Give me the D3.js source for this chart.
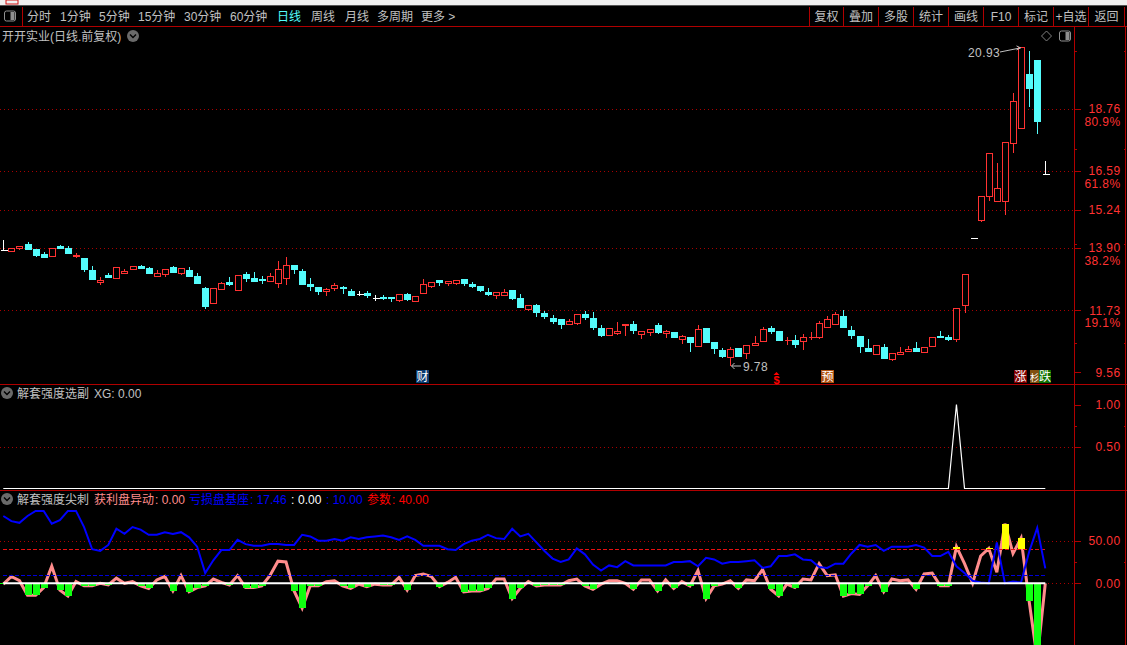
<!DOCTYPE html>
<html>
<head>
<meta charset="utf-8">
<script src="https://cdn.jsdelivr.net/npm/d3@7"></script>
<style>
  html, body { margin: 0; padding: 0; background: #000; overflow: hidden; }
  text { font-family: "Liberation Sans", "Noto Sans CJK SC", sans-serif; }
</style>
</head>
<body>
<div id="data-vis"></div>
<script>
// daily bars, oldest first
const open = [
  13.85, 13.81, 13.90, 14.04, 13.87, 13.69, 13.63, 13.98, 13.90, 13.63,
  13.55, 13.13, 12.72, 12.95, 12.86, 13.03, 13.18, 13.27, 13.20, 12.93,
  12.98, 13.24, 13.04, 13.13, 12.92, 12.50, 11.98, 12.48, 12.71, 12.44,
  12.99, 12.85, 12.81, 12.76, 12.69, 12.86, 13.31, 13.10, 12.64, 12.54,
  12.41, 12.50, 12.55, 12.40, 12.31, 12.33, 12.15, 12.19, 12.19, 12.09,
  12.29, 12.06, 12.34, 12.58, 12.78, 12.69, 12.69, 12.82, 12.65, 12.57,
  12.36, 12.27, 12.27, 12.43, 12.15, 11.78, 11.91, 11.63, 11.45, 11.42,
  11.25, 11.28, 11.59, 11.45, 11.10, 10.87, 10.94, 11.22, 11.24, 10.90,
  10.97, 11.21, 10.94, 10.96, 10.73, 10.81, 10.49, 11.10, 10.62, 10.34,
  10.10, 10.41, 10.24, 10.52, 10.66, 11.10, 11.00, 10.68, 10.69, 10.66,
  10.78, 10.80, 11.13, 11.26, 11.52, 11.04, 10.83, 10.41, 10.21, 10.44,
  10.03, 10.21, 10.31, 10.41, 10.28, 10.49, 10.83, 10.79, 10.71, 11.90,
  14.27, 14.89, 15.71, 15.56, 15.56, 17.58, 18.11, 19.98, 20.47, 16.48
];
const high = [
  14.18, 13.92, 13.97, 14.13, 13.87, 13.76, 13.89, 14.02, 13.97, 13.73,
  13.55, 13.27, 12.89, 13.03, 13.23, 13.17, 13.26, 13.31, 13.24, 13.13,
  13.16, 13.27, 13.20, 13.24, 13.03, 12.54, 12.50, 12.71, 12.89, 12.96,
  13.06, 13.06, 12.92, 13.03, 13.45, 13.59, 13.31, 13.17, 12.85, 12.54,
  12.50, 12.68, 12.57, 12.47, 12.40, 12.40, 12.26, 12.26, 12.19, 12.29,
  12.33, 12.24, 12.82, 12.70, 12.78, 12.75, 12.80, 12.82, 12.71, 12.57,
  12.50, 12.35, 12.47, 12.43, 12.29, 11.90, 11.94, 11.70, 11.56, 11.42,
  11.42, 11.59, 11.70, 11.66, 11.21, 11.10, 11.31, 11.24, 11.35, 11.00,
  11.09, 11.28, 11.03, 10.96, 10.86, 10.81, 11.21, 11.10, 10.62, 10.41,
  10.44, 10.41, 10.53, 10.83, 11.14, 11.18, 11.00, 10.79, 10.86, 10.90,
  10.97, 11.35, 11.52, 11.66, 11.73, 11.18, 10.83, 10.72, 10.50, 10.55,
  10.25, 10.44, 10.48, 10.62, 10.46, 10.78, 11.00, 10.86, 11.79, 12.98,
  14.27, 15.71, 17.24, 16.86, 17.59, 19.32, 20.93, 20.79, 20.47, 16.93
];
const low = [
  13.83, 13.81, 13.83, 13.83, 13.60, 13.55, 13.63, 13.87, 13.69, 13.55,
  13.06, 12.78, 12.61, 12.85, 12.82, 12.99, 13.13, 13.17, 12.99, 12.93,
  12.89, 13.03, 12.96, 12.89, 12.64, 11.77, 11.98, 12.48, 12.57, 12.44,
  12.71, 12.71, 12.64, 12.75, 12.50, 12.61, 12.99, 12.64, 12.40, 12.26,
  12.22, 12.40, 12.29, 12.22, 12.22, 12.15, 12.05, 12.08, 12.01, 12.02,
  12.05, 12.01, 12.34, 12.51, 12.57, 12.57, 12.61, 12.57, 12.50, 12.36,
  12.22, 12.12, 12.27, 12.08, 11.80, 11.71, 11.49, 11.42, 11.24, 11.07,
  11.21, 11.21, 11.38, 11.03, 10.79, 10.87, 10.86, 10.82, 10.89, 10.72,
  10.82, 10.89, 10.75, 10.75, 10.54, 10.27, 10.49, 10.62, 10.20, 10.06,
  9.78, 10.09, 10.02, 10.48, 10.66, 10.90, 10.65, 10.51, 10.41, 10.34,
  10.69, 10.72, 11.13, 11.26, 11.10, 10.72, 10.23, 10.27, 10.21, 10.06,
  9.95, 10.21, 10.31, 10.27, 10.28, 10.44, 10.76, 10.65, 10.62, 11.62,
  14.27, 14.81, 15.54, 15.56, 15.05, 17.22, 18.11, 18.83, 17.89, 16.48
];
const close = [
  13.85, 13.92, 13.97, 13.87, 13.66, 13.60, 13.89, 13.91, 13.73, 13.65,
  13.18, 12.82, 12.78, 12.90, 13.23, 13.10, 13.26, 13.21, 13.03, 13.02,
  13.16, 13.06, 13.20, 12.92, 12.68, 11.87, 12.50, 12.67, 12.64, 12.96,
  12.85, 12.75, 12.78, 12.92, 13.16, 13.31, 13.17, 12.64, 12.58, 12.40,
  12.47, 12.61, 12.51, 12.26, 12.31, 12.26, 12.15, 12.15, 12.16, 12.29,
  12.12, 12.24, 12.64, 12.70, 12.72, 12.75, 12.80, 12.68, 12.57, 12.43,
  12.30, 12.35, 12.35, 12.15, 11.85, 11.90, 11.67, 11.52, 11.35, 11.24,
  11.35, 11.59, 11.49, 11.14, 10.86, 11.10, 11.00, 11.24, 11.03, 11.00,
  11.09, 10.96, 11.00, 10.79, 10.82, 10.62, 11.06, 10.62, 10.41, 10.13,
  10.37, 10.13, 10.53, 10.60, 11.09, 11.00, 10.69, 10.70, 10.55, 10.78,
  10.81, 11.30, 11.41, 11.58, 11.15, 10.86, 10.48, 10.30, 10.50, 10.06,
  10.25, 10.27, 10.39, 10.30, 10.46, 10.78, 10.79, 10.74, 11.79, 12.98,
  14.27, 15.71, 17.24, 15.99, 17.59, 19.03, 20.93, 19.49, 18.34, 16.48
];

// 解套强度选副 XG
const xg = [
  0, 0, 0, 0, 0, 0, 0, 0, 0, 0, 0, 0, 0, 0, 0, 0, 0, 0, 0, 0,
  0, 0, 0, 0, 0, 0, 0, 0, 0, 0, 0, 0, 0, 0, 0, 0, 0, 0, 0, 0,
  0, 0, 0, 0, 0, 0, 0, 0, 0, 0, 0, 0, 0, 0, 0, 0, 0, 0, 0, 0,
  0, 0, 0, 0, 0, 0, 0, 0, 0, 0, 0, 0, 0, 0, 0, 0, 0, 0, 0, 0,
  0, 0, 0, 0, 0, 0, 0, 0, 0, 0, 0, 0, 0, 0, 0, 0, 0, 0, 0, 0,
  0, 0, 0, 0, 0, 0, 0, 0, 0, 0, 0, 0, 0, 0, 0, 0, 0, 0, 1, 0,
  0, 0, 0, 0, 0, 0, 0, 0, 0, 0
];

// 获利盘异动
const profit = [
  -1, 8, 3, -14, -14, -5, 20, -8, -15, 2,
  -3, -3, 0, -2, 6, 0, 2, -3, -6, 4,
  8, -9, 9, -10, -5, -3, 5, 1, -2, 9,
  -5, -5, -3, 9, 26, 25, -9, -29, -3, -3,
  2, 3, -3, -6, -1, -4, -1, -2, -2, 7,
  -8, 9, 11, 8, -4, 1, 7, -10, -9, -9,
  -6, 5, 5, -18, -6, 2, -3, -2, -2, -2,
  3, 5, -3, -7, -1, 3, 3, 0, -7, 4,
  4, -9, 4, -6, 2, -3, 15, -18, -3, -1,
  3, -6, 4, 3, 16, -7, -15, -1, -5, 5,
  4, 23, 9, 10, -15, -12, -13, -3, 9, -10,
  5, 3, 4, -7, 11, 12, -3, -3, 43, 23,
  0, 32, 41, 13, 70, 35, 53, -21, -89, 0
];

// 亏损盘基座
const base = [
  79, 73, 71, 79, 85, 85, 70, 74, 85, 85,
  66, 40, 38, 45, 64, 58, 66, 63, 57, 57,
  60, 58, 60, 54, 43, 12, 27, 39, 39, 51,
  46, 44, 44, 46, 46, 45, 45, 57, 55, 50,
  50, 52, 50, 54, 52, 54, 55, 56, 54, 51,
  55, 51, 44, 44, 44, 40, 39, 46, 50, 52,
  57, 53, 52, 64, 55, 58, 48, 38, 29, 25,
  28, 41, 34, 22, 15, 21, 19, 26, 21, 21,
  21, 21, 21, 25, 25, 26, 20, 30, 28, 23,
  25, 25, 26, 27, 18, 20, 32, 32, 34, 28,
  27, 19, 18, 23, 23, 35, 45, 43, 45, 38,
  43, 43, 43, 45, 42, 32, 32, 37, 20, 12,
  3, 1, 0, 48, 0, 2, 1, 37, 65, 17.46
];

const priceTicks = [18.76, 16.59, 15.24, 13.90, 11.73, 9.56];
const priceGrid = [18.76, 16.59, 15.24, 13.90, 11.73];
const priceMinor = [20.8, 17.36, 14.04, 10.58];
const fibPrices = [18.76, 16.59, 13.90, 11.73];
const fibLabels = ["80.9%", "61.8%", "38.2%", "19.1%"];
const xgTicks = [1, 0.5];
const xgMinor = [0.75];
const sharpTicks = [50, 0];
const sharpMinor = [25];

const toolLeft = [
  ["分时", 27], ["1分钟", 60], ["5分钟", 99], ["15分钟", 138], ["30分钟", 184], ["60分钟", 230],
  ["日线", 277], ["周线", 311], ["月线", 345], ["多周期", 377], ["更多 >", 421]
];
const toolRight = ["复权", "叠加", "多股", "统计", "画线", "F10", "标记", "+自选", "返回"];
const toolEdges = [809, 843, 878, 913, 948, 983, 1018, 1053, 1088, 1124];

const frameRed = "#b00000";
const gridRed = "#a80000";
const upRed = "#ff3232";
const downCyan = "#54fcfc";
const textGray = "#c0c0c0";

const W = 1127, H = 645;
const svg = d3.select("#data-vis").append("svg")
  .attr("width", W).attr("height", H)
  .style("display", "block")
  .style("background", "#000");

const x = d3.scaleLinear().domain([0, 129]).range([3.3, 1045.3]);
const px = i => Math.round(x(i)) + 0.5;

const yPrice = d3.scaleLinear().domain([9.56, 18.76]).range([372.3, 109]);
const yXg = d3.scaleLinear().domain([0, 1]).range([488.5, 404.5]);
const ySharp = d3.scaleLinear().domain([0, 50]).range([583.3, 540.7]);

// top strip and toolbar
svg.append("rect").attr("width", W).attr("height", 5).attr("fill", "#f0f0f0");
svg.append("rect").attr("x", 6).attr("width", 12).attr("height", 4).attr("fill", "none").attr("stroke", "#d01010");
svg.append("rect").attr("y", 5).attr("width", W).attr("height", 1).attr("fill", "#555");

const frame = svg.append("g").attr("stroke", frameRed).attr("shape-rendering", "crispEdges");
[26.5, 384.5, 490.5].forEach(y => {
  frame.append("line").attr("x1", 0).attr("x2", W).attr("y1", y).attr("y2", y);
});
frame.append("line").attr("x1", 22.5).attr("x2", 22.5).attr("y1", 7).attr("y2", 26);
frame.append("line").attr("x1", 1074.5).attr("x2", 1074.5).attr("y1", 26).attr("y2", H).attr("stroke-width", 1.5);
frame.append("line").attr("x1", 1125.5).attr("x2", 1125.5).attr("y1", 26).attr("y2", H);
frame.selectAll(".sep").data(toolEdges).join("line")
  .attr("class", "sep")
  .attr("x1", d => d + 0.5).attr("x2", d => d + 0.5)
  .attr("y1", 7).attr("y2", 26);

svg.selectAll(".tool-left").data(toolLeft).join("text")
  .attr("class", "tool-left")
  .attr("x", d => d[1]).attr("y", 20.5)
  .attr("font-size", 12)
  .attr("fill", d => d[0] === "日线" ? "#54fcfc" : textGray)
  .text(d => d[0]);
svg.selectAll(".tool-right").data(toolRight).join("text")
  .attr("class", "tool-right")
  .attr("x", (d, i) => (toolEdges[i] + toolEdges[i + 1]) / 2 + 0.5).attr("y", 20.5)
  .attr("text-anchor", "middle")
  .attr("font-size", 12)
  .attr("fill", textGray)
  .text(d => d);

// toolbar and pane icons
function panelIcon(cx, cy) {
  svg.append("rect").attr("x", cx - 5.5).attr("y", cy - 5).attr("width", 11).attr("height", 10).attr("rx", 2)
    .attr("fill", "none").attr("stroke", "#909090");
  svg.append("rect").attr("x", cx + 0.5).attr("y", cy - 4).attr("width", 4).attr("height", 8).attr("fill", "#909090");
}
panelIcon(10, 16);
panelIcon(1065, 36);
svg.append("path").attr("d", "M1046.5 31l5 5l-5 5l-5 -5z").attr("fill", "none").attr("stroke", "#808080");

function chevron(cx, cy) {
  svg.append("circle").attr("cx", cx).attr("cy", cy).attr("r", 6).attr("fill", "#6a6a6a");
  svg.append("path").attr("d", `M${cx - 3} ${cy - 1.5}l3 3l3 -3`).attr("fill", "none").attr("stroke", "#000").attr("stroke-width", 1.4);
}
chevron(133, 36);
chevron(7, 393);
chevron(7, 499);

svg.append("text").attr("x", 2).attr("y", 40.5).attr("font-size", 12).attr("fill", textGray).text("开开实业(日线.前复权)");
svg.append("text").attr("x", 17).attr("y", 397.5).attr("font-size", 12).attr("fill", textGray).text("解套强度选副");
svg.append("text").attr("x", 94).attr("y", 397.5).attr("font-size", 12).attr("fill", textGray).text("XG: 0.00");

// third pane legend
const legendBits = [
  ["解套强度尖刺", 17, textGray], ["获利盘异动", 94, "#ff8c8c"], [": 0.00", 155, "#ff8c8c"],
  ["亏损盘基座", 189, "#0000ff"], [": 17.46", 250, "#0000ff"], [":", 291, "#fff"], ["0.00", 298, "#fff"],
  [": 10.00", 326, "#0000ff"], ["参数", 367, "#ff0000"], [": 40.00", 392, "#ff0000"]
];
svg.selectAll(".legend-bit").data(legendBits).join("text")
  .attr("class", "legend-bit")
  .attr("x", d => d[1]).attr("y", 503.5)
  .attr("font-size", 12)
  .attr("fill", d => d[2])
  .text(d => d[0]);

// dotted guide lines
function dotted(values, scale) {
  svg.append("g").selectAll("line").data(values).join("line")
    .attr("x1", 0).attr("x2", 1074)
    .attr("y1", d => Math.round(scale(d)) + 0.5).attr("y2", d => Math.round(scale(d)) + 0.5)
    .attr("stroke", gridRed)
    .attr("stroke-dasharray", "1,3")
    .attr("shape-rendering", "crispEdges");
}
dotted(priceGrid, yPrice);
dotted([0.5], yXg);
dotted(sharpTicks, ySharp);

// axes on the right side
function rightAxis(scale, ticks, fmt) {
  const g = svg.append("g")
    .attr("transform", "translate(1074.5,0)")
    .call(d3.axisRight(scale).tickValues(ticks).tickSize(6).tickFormat(fmt));
  g.select(".domain").remove();
  g.selectAll(".tick line").attr("stroke", frameRed).attr("shape-rendering", "crispEdges");
  g.selectAll(".tick text")
    .attr("x", 46)
    .attr("text-anchor", "end")
    .attr("fill", upRed)
    .attr("font-size", 12)
    .attr("font-family", "Liberation Sans")
    .attr("letter-spacing", 0.4);
}
rightAxis(yPrice, priceTicks, d3.format(".2f"));
rightAxis(yXg, xgTicks, d3.format(".2f"));
rightAxis(ySharp, sharpTicks, d3.format(".2f"));

// small unlabelled ticks on both sides of the scale column
function minorAxis(scale, ticks) {
  [[1074.5, d3.axisRight], [1125.5, d3.axisLeft]].forEach(([xPos, axis]) => {
    const g = svg.append("g")
      .attr("transform", `translate(${xPos},0)`)
      .call(axis(scale).tickValues(ticks).tickSize(2).tickFormat(""));
    g.select(".domain").remove();
    g.selectAll(".tick line").attr("stroke", frameRed).attr("shape-rendering", "crispEdges");
  });
}
minorAxis(yPrice, priceMinor);
minorAxis(yXg, xgMinor);
minorAxis(ySharp, sharpMinor);

svg.selectAll(".fib").data(fibLabels).join("text")
  .attr("class", "fib")
  .attr("x", 1120.5)
  .attr("y", (d, i) => yPrice(fibPrices[i]) + 16.5)
  .attr("text-anchor", "end")
  .attr("font-size", 12)
  .attr("letter-spacing", 0.4)
  .attr("fill", upRed)
  .text(d => d);

// candles
const bars = open.map((o, i) => ({ i, o, h: high[i], l: low[i], c: close[i] }));
const candleColor = d => d.c > d.o ? upRed : d.c < d.o ? downCyan : "#ffffff";
const bodyTop = d => Math.round(yPrice(Math.max(d.o, d.c)));
const bodyHeight = d => Math.round(yPrice(Math.min(d.o, d.c))) - bodyTop(d);

const candles = svg.append("g").attr("shape-rendering", "crispEdges");
candles.selectAll(".wick").data(bars).join("line")
  .attr("class", "wick")
  .attr("x1", d => px(d.i)).attr("x2", d => px(d.i))
  .attr("y1", d => yPrice(d.h)).attr("y2", d => yPrice(d.l))
  .attr("stroke", candleColor);
candles.selectAll(".body").data(bars.filter(d => bodyHeight(d) > 0)).join("rect")
  .attr("class", "body")
  .attr("x", d => px(d.i) - 3)
  .attr("width", 6)
  .attr("y", d => bodyTop(d) + 0.5)
  .attr("height", bodyHeight)
  .attr("fill", d => d.c < d.o ? downCyan : "#000")
  .attr("stroke", candleColor);
// a bar with no body is just a short flat line
candles.selectAll(".flat").data(bars.filter(d => bodyHeight(d) === 0)).join("line")
  .attr("class", "flat")
  .attr("x1", d => px(d.i) - 3).attr("x2", d => px(d.i) + 4)
  .attr("y1", d => bodyTop(d) + 0.5).attr("y2", d => bodyTop(d) + 0.5)
  .attr("stroke", candleColor);

// high and low tags
const tagBars = [126, 90];
svg.append("text").attr("x", 968).attr("y", 57).attr("font-size", 12).attr("letter-spacing", 0.4).attr("fill", textGray).text(high[tagBars[0]].toFixed(2));
svg.append("path").attr("d", `M1000 52L${px(tagBars[0]) - 1} ${yPrice(high[tagBars[0]]) + 1}m-4 -2l4 2l-4 2`)
  .attr("fill", "none").attr("stroke", textGray);
svg.append("text").attr("x", 743).attr("y", 371).attr("font-size", 12).attr("letter-spacing", 0.4).attr("fill", textGray).text(low[tagBars[1]].toFixed(2));
svg.append("path").attr("d", `M741 366H${px(tagBars[1]) + 1}m3 -3l-3 3l3 3`)
  .attr("fill", "none").attr("stroke", textGray);

// event badges along the bottom of the price pane
const badges = [["财", 416, 13, 12, "#0a3a70"], ["预", 821, 13, 12, "#b05010"], ["涨", 1014, 13, 12, "#800000"], ["杉", 1030, 9, 9, "#805010"], ["跌", 1039, 12, 12, "#107000"]];
badges.forEach(b => {
  svg.append("rect").attr("x", b[1]).attr("y", 370).attr("width", b[2]).attr("height", 13).attr("fill", b[4]);
  svg.append("text").attr("x", b[1] + b[2] / 2).attr("y", 381).attr("text-anchor", "middle")
    .attr("font-size", b[3]).attr("fill", "#fff").text(b[0]);
});
svg.append("path").attr("d", "M776.5 372l3 3h-6z").attr("fill", "#ff0000");
svg.append("text").attr("x", 776.5).attr("y", 384).attr("text-anchor", "middle").attr("font-size", 11).attr("font-weight", "bold").attr("fill", "#ff0000").text("$");

// XG pane
svg.append("path").datum(xg)
  .attr("fill", "none").attr("stroke", "#fff").attr("stroke-width", 1.2)
  .attr("d", d3.line().x((d, i) => x(i)).y(d => yXg(d)));

// sharp pane: profit line, bars, reference lines, base line, zero line
const lineOf = d3.line().x((d, i) => x(i)).y(d => ySharp(d));

svg.append("path").datum(profit)
  .attr("fill", "none").attr("stroke", "#ff8c8c").attr("stroke-width", 3)
  .attr("d", lineOf);

const histo = svg.append("g").attr("shape-rendering", "crispEdges");
histo.selectAll(".neg").data(profit.map((v, i) => ({ v, i })).filter(d => d.v <= -1)).join("rect")
  .attr("class", "neg")
  .attr("x", d => px(d.i) - 3.5).attr("width", 7)
  .attr("y", ySharp(0))
  .attr("height", d => ySharp(d.v) - ySharp(0))
  .attr("fill", "#10ff10");
histo.selectAll(".hot").data(profit.map((v, i) => ({ v, i })).filter(d => d.v > 40)).join("rect")
  .attr("class", "hot")
  .attr("x", d => px(d.i) - 3.5).attr("width", 7)
  .attr("y", d => ySharp(d.v))
  .attr("height", d => ySharp(40) - ySharp(d.v))
  .attr("fill", "#ffff00");

const refLines = [[40, "#e81010"], [10, "#0000d8"]];
svg.append("g").selectAll("line").data(refLines).join("line")
  .attr("x1", x(0)).attr("x2", x(129))
  .attr("y1", d => Math.round(ySharp(d[0])) + 0.5).attr("y2", d => Math.round(ySharp(d[0])) + 0.5)
  .attr("stroke", d => d[1])
  .attr("stroke-dasharray", "4,2")
  .attr("shape-rendering", "crispEdges");

svg.append("path").datum(base)
  .attr("fill", "none").attr("stroke", "#0000ff").attr("stroke-width", 2)
  .attr("d", lineOf);

svg.append("line").attr("x1", x(0)).attr("x2", x(129))
  .attr("y1", ySharp(0)).attr("y2", ySharp(0))
  .attr("stroke", "#fff").attr("stroke-width", 2);
</script>
</body>
</html>
